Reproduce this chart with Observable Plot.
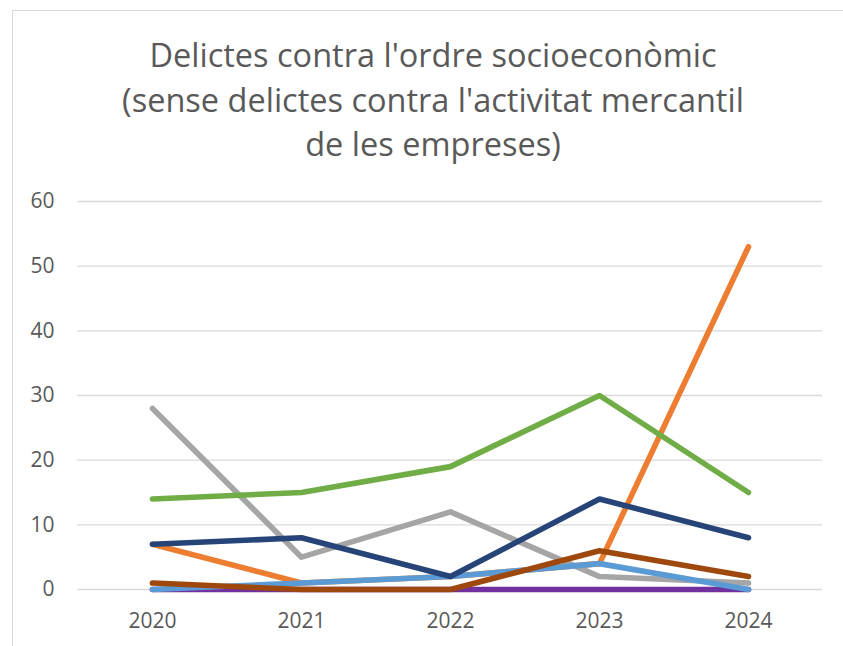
<!DOCTYPE html>
<html>
<head>
<meta charset="utf-8">
<script src="https://cdn.jsdelivr.net/npm/d3@7"></script>
<script src="https://cdn.jsdelivr.net/npm/@observablehq/plot@0.6"></script>
<style>
  html, body { margin: 0; padding: 0; background: #fff; overflow: hidden; }
  #wrap { position: relative; width: 843px; height: 646px; }
  #frame { position: absolute; left: 12px; top: 10px; width: 900px; height: 700px; border: 1.5px solid #d9d9d9; box-sizing: border-box; }
  #title { position: absolute; left: 0; width: 866px; top: 33px; text-align: center; font-family: "Open Sans", sans-serif; font-size: 32.5px; line-height: 44.5px; color: #595959; }
  #chart { position: absolute; left: 0; top: 0; }
</style>
</head>
<body>
<div id="wrap">
  <div id="frame"></div>
  <div id="chart"></div>
  <div id="title">Delictes contra l'ordre socioeconòmic<br>(sense delictes contra l'activitat mercantil<br>de les empreses)</div>
</div>
<script>
const years = ["2020", "2021", "2022", "2023", "2024"];
const seriesNames = ["S7", "S1", "S2", "S3", "S4", "S5", "S6"];
const seriesColors = ["#7030A0", "#ED7D31", "#A5A5A5", "#70AD47", "#5B9BD5", "#264478", "#9E480E"];
const s7Values = [0, 0, 0, 0, 0];
const s1Values = [7, 1, 2, 4, 53];
const s2Values = [28, 5, 12, 2, 1];
const s3Values = [14, 15, 19, 30, 15];
const s4Values = [0, 1, 2, 4, 0];
const s5Values = [7, 8, 2, 14, 8];
const s6Values = [1, 0, 0, 6, 2];
const yTicks = [0, 10, 20, 30, 40, 50, 60];

const allValues = [s7Values, s1Values, s2Values, s3Values, s4Values, s5Values, s6Values];
const data = [];
seriesNames.forEach((s, i) => {
  years.forEach((y, j) => data.push({series: s, year: y, value: allValues[i][j]}));
});

const chart = Plot.plot({
  width: 843,
  height: 646,
  marginLeft: 77,
  marginRight: 21,
  marginTop: 201,
  marginBottom: 57,
  style: {fontFamily: "Open Sans, sans-serif", fontSize: "21px", color: "#595959", background: "transparent"},
  x: {type: "point", domain: years, padding: 0.5, label: null, tickSize: 0, tickPadding: 24},
  y: {domain: [0, 60], ticks: yTicks, label: null, tickSize: 0, tickPadding: 23},
  color: {type: "ordinal", domain: seriesNames, range: seriesColors},
  marks: [
    Plot.ruleY(yTicks, {stroke: "#d9d9d9", strokeWidth: 1.3}),
    ...seriesNames.map(s => Plot.lineY(data.filter(d => d.series === s), {
      x: "year", y: "value", stroke: "series", strokeWidth: 5.6,
      strokeLinecap: "round", strokeLinejoin: "round"
    })),
    Plot.axisX({tickSize: 0, tickPadding: 24, fill: "#595959", fontSize: 21}),
    Plot.axisY({ticks: yTicks, tickSize: 0, tickPadding: 23, fill: "#595959", fontSize: 21})
  ]
});
document.getElementById("chart").appendChild(chart);
</script>
</body>
</html>
